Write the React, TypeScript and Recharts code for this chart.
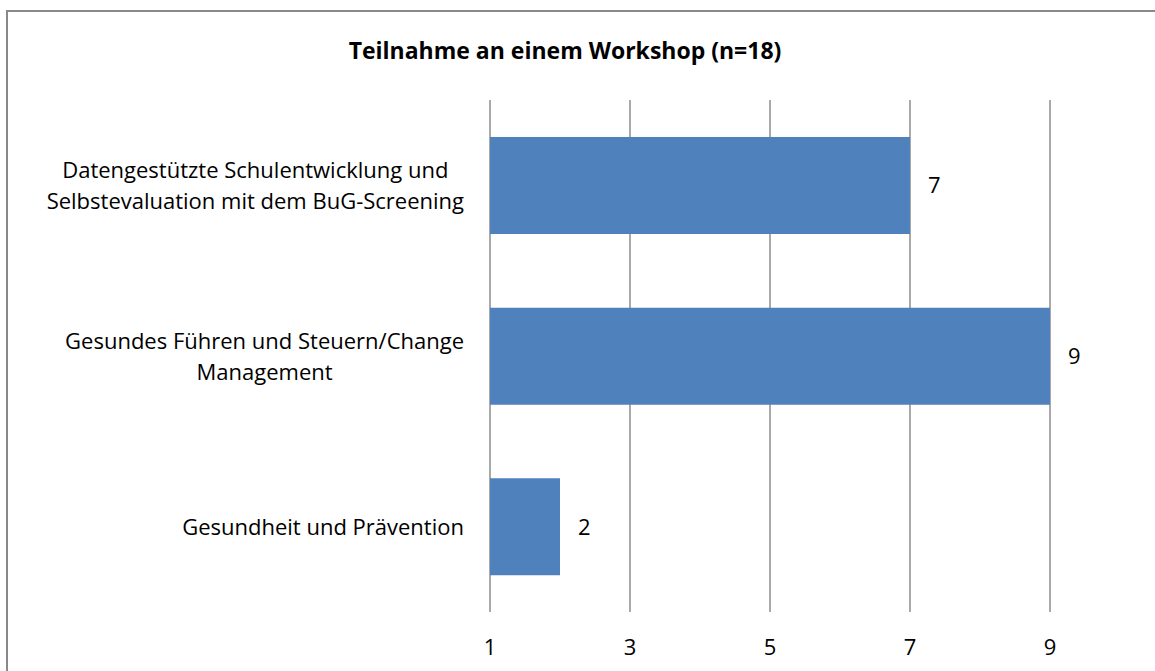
import React from "react";
import { BarChart, Bar, XAxis, YAxis, CartesianGrid, LabelList } from "recharts";

const categories = [
  "Datengestützte Schulentwicklung und Selbstevaluation mit dem BuG-Screening",
  "Gesundes Führen und Steuern/Change Management",
  "Gesundheit und Prävention",
];
const counts = [7, 9, 2];
const xTicks = [1, 3, 5, 7, 9];

const data = categories.map((name, i) => ({ name, count: counts[i] }));

const FONT = "'Open Sans', 'Liberation Sans', sans-serif";
const FONT_SIZE = 22;
const MAX_LABEL_WIDTH = 450;

// no scrollbars around the fixed-size chart
if (typeof document !== "undefined") {
  document.documentElement.style.overflow = "hidden";
  document.body.style.margin = "0";
}

let ctx: CanvasRenderingContext2D | null = null;
const measure = (s: string) => {
  if (!ctx) ctx = document.createElement("canvas").getContext("2d");
  if (!ctx) return s.length * FONT_SIZE * 0.5;
  ctx.font = `${FONT_SIZE}px 'Open Sans'`;
  return ctx.measureText(s).width;
};

// greedy word wrap, like the spreadsheet does for long category names
const wrap = (text: string) => {
  const words = text.split(" ");
  const lines: string[] = [];
  let cur = "";
  words.forEach((w) => {
    const next = cur ? cur + " " + w : w;
    if (cur && measure(next) > MAX_LABEL_WIDTH) {
      lines.push(cur);
      cur = w;
    } else cur = next;
  });
  if (cur) lines.push(cur);
  return lines;
};

const CategoryTick = (props: any) => {
  const { x, y, payload } = props;
  const lines = wrap(payload.value);
  const blockW = Math.max(...lines.map(measure));
  const cx = x - 18 - blockW / 2;
  const lh = 31;
  const top = y - ((lines.length - 1) * lh) / 2;
  return (
    <g>
      {lines.map((l, i) => (
        <text key={i} x={cx} y={top + i * lh} dy={8} textAnchor="middle" fill="#000"
          fontFamily={FONT} fontSize={FONT_SIZE}>
          {l}
        </text>
      ))}
    </g>
  );
};

const ValueTick = (props: any) => {
  const { x, y, payload } = props;
  return (
    <text x={x} y={y} dy={35} textAnchor="middle" fill="#000" fontFamily={FONT} fontSize={FONT_SIZE}>
      {payload.value}
    </text>
  );
};

export default function App() {
  return (
    <div style={{ position: "fixed", left: 0, top: 0, width: 1155, height: 671, background: "#fff", overflow: "hidden" }}>
      <div style={{ position: "absolute", left: 6, top: 10, width: 1149, height: 661, boxSizing: "border-box",
        borderLeft: "2px solid #898989", borderTop: "2px solid #898989" }} />
      <div style={{ position: "absolute", left: 0, top: 0, width: 1130, textAlign: "center",
        fontFamily: FONT, fontWeight: 700, fontSize: 23, lineHeight: "30px", paddingTop: 35, color: "#000" }}>
        Teilnahme an einem Workshop (n=18)
      </div>
      <BarChart
        width={1155}
        height={671}
        data={data}
        layout="vertical"
        margin={{ top: 100, right: 105, left: 0, bottom: 0 }}
        barCategoryGap={37}
        style={{ position: "absolute", left: 0, top: 0 }}
      >
        <CartesianGrid horizontal={false} vertical stroke="#8c8c8c" strokeWidth={1.5} />
        <XAxis type="number" domain={[1, 9]} ticks={xTicks} axisLine={false} tickLine={false}
          height={59} tick={<ValueTick />} interval={0} />
        <YAxis type="category" dataKey="name" width={490} axisLine={false} tickLine={false}
          tick={<CategoryTick />} interval={0} />
        <Bar dataKey="count" fill="#4f81bd" isAnimationActive={false}>
          <LabelList dataKey="count" position="right" offset={18} fill="#000"
            fontFamily={FONT} fontSize={FONT_SIZE} />
        </Bar>
      </BarChart>
    </div>
  );
}
